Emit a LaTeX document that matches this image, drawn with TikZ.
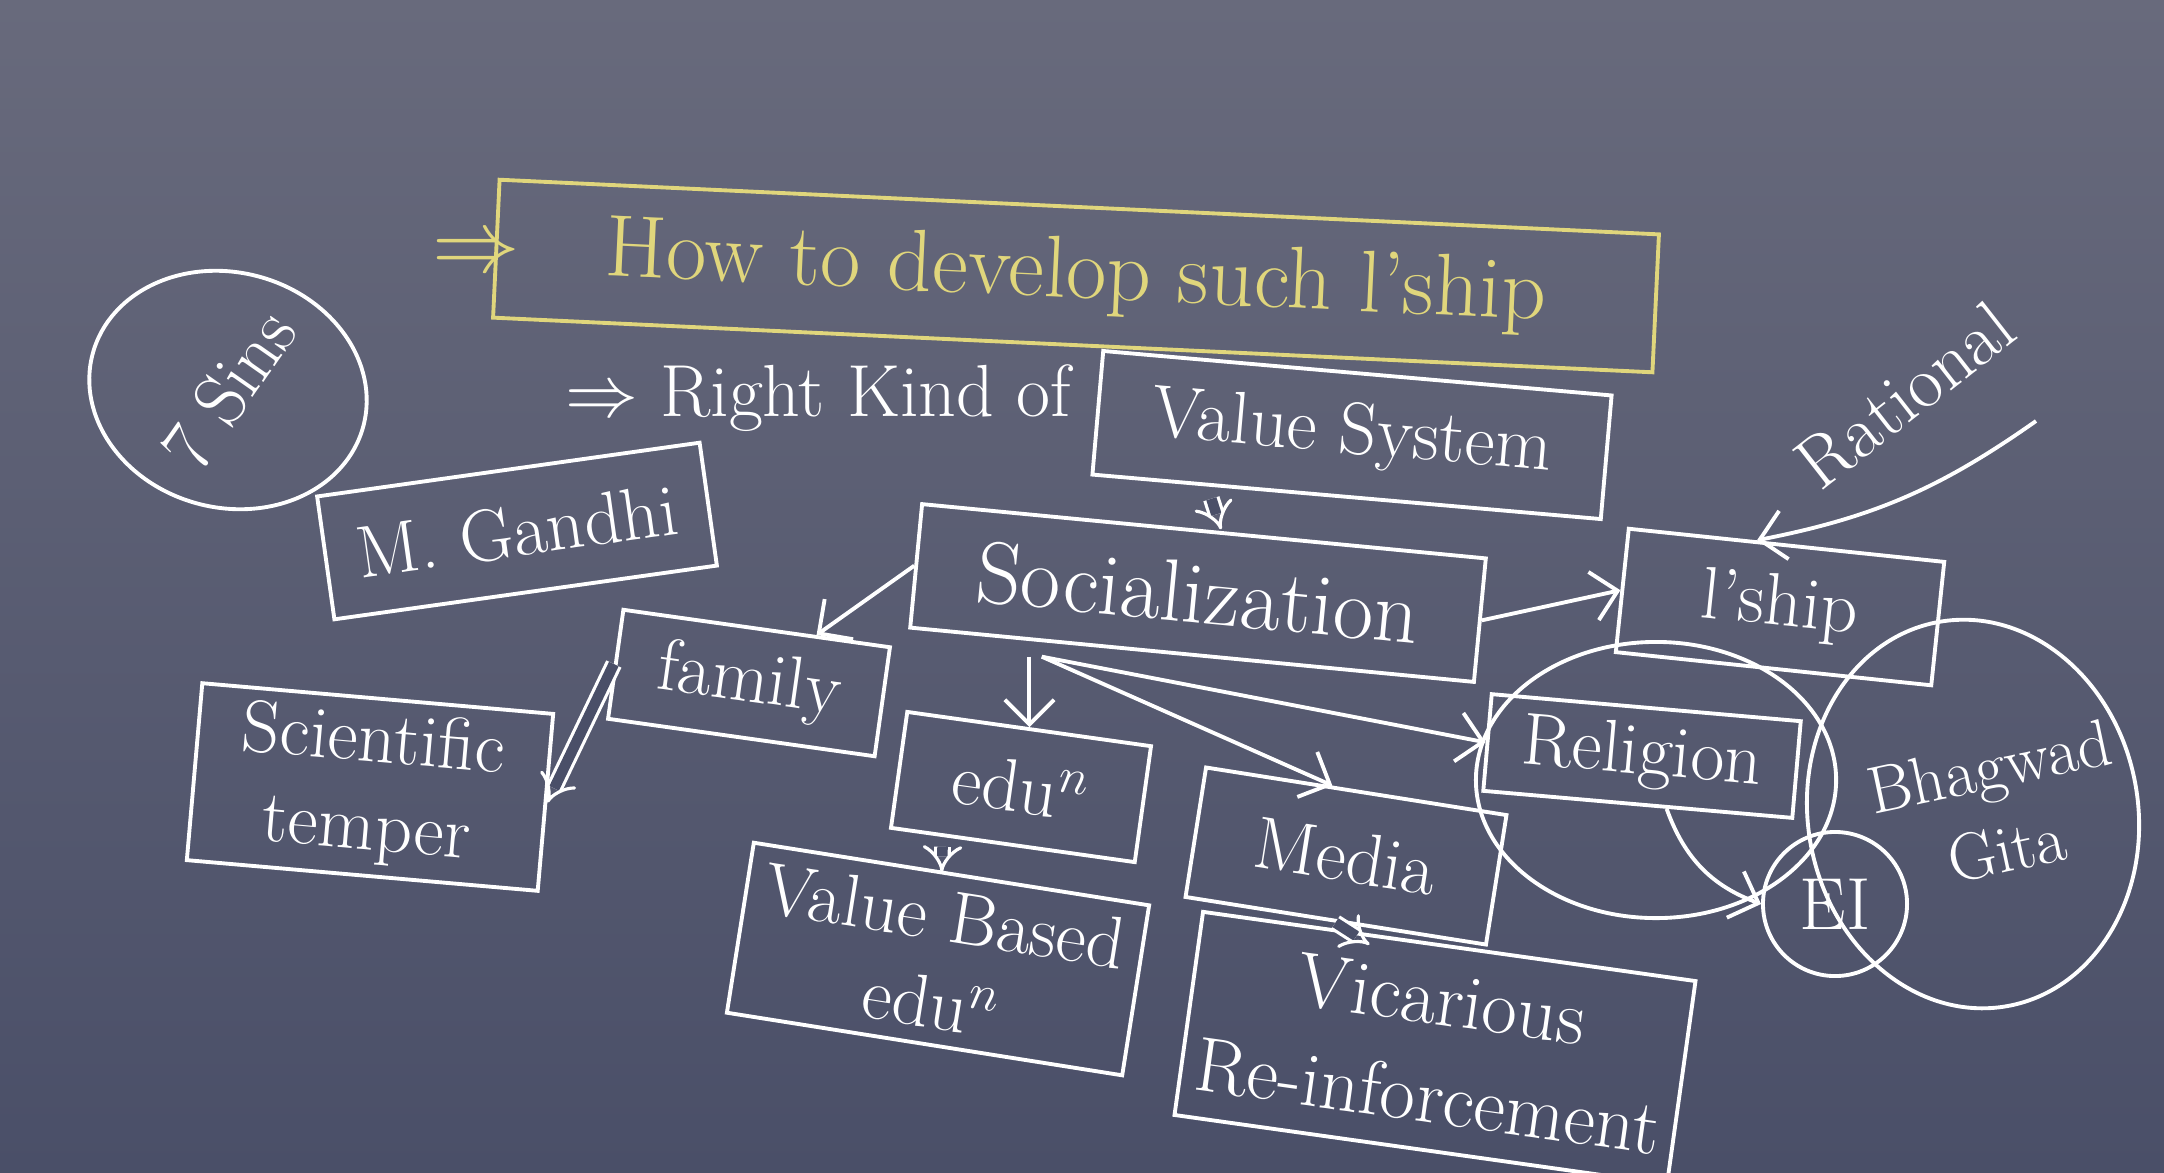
\documentclass[tikz,border=0pt]{standalone}
\usetikzlibrary{arrows.meta, shapes.geometric}

\definecolor{boardtop}{RGB}{104,106,124}
\definecolor{board}{RGB}{74,79,104}
\definecolor{chalkyellow}{RGB}{224,214,124}

\tikzset{
  chalkbox/.style={shape=rectangle, draw=white, text=white, line width=1.1pt},
  chalktext/.style={draw=none, text=white},
  dblarrow/.style={white, line width=0.9pt, double=board, double distance=3pt, -{Implies}},
}

\begin{document}
\begin{tikzpicture}[x=0.01cm, y=-0.01cm]
\shade[top color=boardtop, bottom color=board] (0,0) rectangle (2164,1172);
\useasboundingbox (0,0) rectangle (2164,1172);

\begin{scope}[every node/.style={chalkbox, align=center, font=\fontsize{21}{25}\selectfont}]
    \node (title) at (1076,276) [rotate=-2.7, draw=chalkyellow, text=chalkyellow, minimum width=11.6cm, minimum height=1.38cm, font=\fontsize{25}{30}\selectfont] {How to develop such l'ship};
    \node (titlearrow) at (476,255) [draw=none, text=chalkyellow, font=\fontsize{25}{30}\selectfont] {$\Rightarrow$};

    \node (rightkind) at (818,398) [chalktext] {$\Rightarrow$ Right Kind of};
    \node (valuesys) at (1352,435) [rotate=-5, minimum width=5.1cm, minimum height=1.24cm] {Value System};
    \node (soc) at (1198,593) [rotate=-5.5, minimum width=5.66cm, minimum height=1.24cm, font=\fontsize{25}{30}\selectfont] {Socialization};

    \node (sins) at (228,390) [ellipse, rotate=-15, minimum width=2.8cm, minimum height=2.35cm] {};
    \node (sinstext) at (228,390) [chalktext, rotate=55] {7 Sins};
    \node (gandhi) at (517,531) [rotate=8, minimum width=3.86cm, minimum height=1.24cm] {M. Gandhi};

    \node (family) at (749,683) [rotate=-8, minimum width=2.69cm, minimum height=1.1cm] {family};
    \node (sci) at (370,787) [rotate=-5, minimum width=3.52cm, minimum height=1.52cm] {Scientific\\temper};
    \node (edu) at (1021,787) [rotate=-8, minimum width=2.46cm, minimum height=1.17cm] {edu$^{n}$};
    \node (vbedu) at (938,959) [rotate=-9, minimum width=4cm, minimum height=1.72cm] {Value Based\\edu$^{n}$};
    \node (media) at (1346,856) [rotate=-9, minimum width=3.04cm, minimum height=1.31cm] {Media};
    \node (vicar) at (1435,1048) [rotate=-8, minimum width=4.97cm, minimum height=2.05cm, font=\fontsize{22}{28}\selectfont] {Vicarious\\Re-inforcement};

    \node (lship) at (1780,607) [rotate=-6, minimum width=3.17cm, minimum height=1.24cm] {l'ship};
    \node (rational) at (1905,395) [chalktext, rotate=38] {Rational};
    \node (rel) at (1642,756) [rotate=-5, minimum width=3.1cm, minimum height=0.97cm] {Religion};
    \node (relring) at (1656,780) [ellipse, minimum width=3.6cm, minimum height=2.76cm] {};
    \node (gita) at (1973,814) [ellipse, rotate=10, minimum width=3.3cm, minimum height=3.9cm] {};
    \node (gitatext) at (1998,808) [chalktext, rotate=12, font=\fontsize{19}{24}\selectfont] {Bhagwad\\Gita};
    \node (ei) at (1835,904) [circle, minimum size=1.44cm] {EI};
\end{scope}

\coordinate (ratline) at (2036,421);

\begin{scope}[>={Straight Barb[white, length=7pt]},
              every edge/.style={draw=white, line width=1.1pt}]
    \path [->] (soc.west) edge node {} (family);
    \path [->] (edu.north |- soc.south) edge node {} (edu.north);
    \path [->] ([xshift=-1.5cm]soc.south) edge node {} (media.110);
    \path [->] ([xshift=-1.5cm]soc.south) edge node {} (rel.west);
    \path [->] (soc.east) edge node {} (lship.west);
    \path [->] (rel.-60) edge [bend right=25] node {} (ei.west);
    \path [->] (ratline) edge [bend left=12] node {} (lship.115);
\end{scope}

\draw [dblarrow] ([xshift=-1.35cm]valuesys.south) -- ([xshift=0.17cm]soc.north);
\draw [dblarrow] (family.west) -- (sci.east);
\draw [dblarrow] ([xshift=-0.7cm]edu.south) -- ([xshift=-0.1cm]vbedu.north);
\draw [dblarrow] (media.south) -- ([xshift=-0.8cm]vicar.north);
\end{tikzpicture}
\end{document}
